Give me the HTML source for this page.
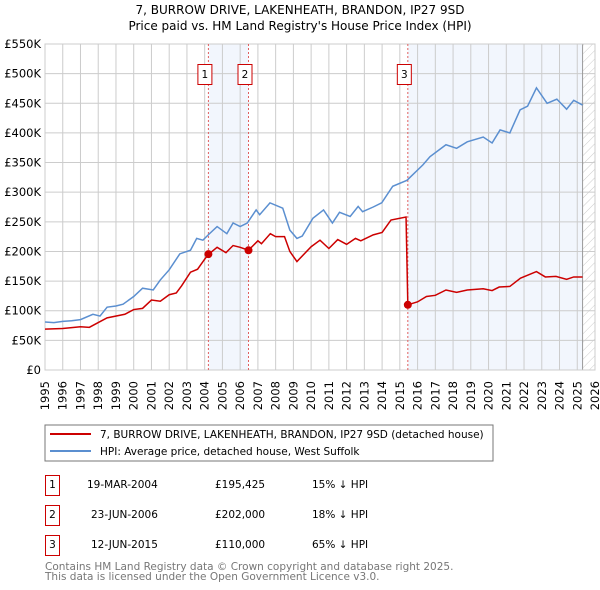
<!DOCTYPE html>
<html><head><meta charset="utf-8"><style>
body{margin:0;background:#fff;}
svg{display:block;font-family:"DejaVu Sans","Liberation Sans",sans-serif;}
</style></head><body>
<svg id="chart" width="600" height="590" viewBox="0 0 600 590" xmlns="http://www.w3.org/2000/svg">
<defs><pattern id="hatch" width="6" height="6" patternUnits="userSpaceOnUse" patternTransform="rotate(45)"><line x1="0" y1="0" x2="0" y2="6" stroke="#ccc" stroke-width="1"/></pattern></defs>
<text x="300" y="14" text-anchor="middle" font-size="12">7, BURROW DRIVE, LAKENHEATH, BRANDON, IP27 9SD</text>
<text x="300" y="30" text-anchor="middle" font-size="12">Price paid vs. HM Land Registry's House Price Index (HPI)</text>
<g id="plot"></g>
<rect x="45" y="425" width="448" height="36" fill="#fff" stroke="#777"/>
<line x1="50" y1="434" x2="91" y2="434" stroke="#cc0000" stroke-width="2"/>
<text x="100" y="438" font-size="10.5">7, BURROW DRIVE, LAKENHEATH, BRANDON, IP27 9SD (detached house)</text>
<line x1="50" y1="451" x2="91" y2="451" stroke="#5b8fd0" stroke-width="2"/>
<text x="100" y="455" font-size="10.5">HPI: Average price, detached house, West Suffolk</text>
<g font-size="10.5">
<rect x="45.5" y="475.5" width="14" height="20" fill="none" stroke="#cc0000"/><text x="52.5" y="488" text-anchor="middle">1</text>
<text x="87" y="488">19-MAR-2004</text><text x="215" y="488">£195,425</text><text x="312" y="488">15% ↓ HPI</text>
<rect x="45.5" y="505.5" width="14" height="20" fill="none" stroke="#cc0000"/><text x="52.5" y="518" text-anchor="middle">2</text>
<text x="91" y="518">23-JUN-2006</text><text x="215" y="518">£202,000</text><text x="312" y="518">18% ↓ HPI</text>
<rect x="45.5" y="535.5" width="14" height="20" fill="none" stroke="#cc0000"/><text x="52.5" y="548" text-anchor="middle">3</text>
<text x="91" y="548">12-JUN-2015</text><text x="215" y="548">£110,000</text><text x="312" y="548">65% ↓ HPI</text>
</g>
<text x="45" y="570" font-size="10.5" fill="#777">Contains HM Land Registry data © Crown copyright and database right 2025.</text>
<text x="45" y="580" font-size="10.5" fill="#777">This data is licensed under the Open Government Licence v3.0.</text>
</svg>
<script>
const yTicks=[0,50,100,150,200,250,300,350,400,450,500,550];
const yTickLabels=["£0","£50K","£100K","£150K","£200K","£250K","£300K","£350K","£400K","£450K","£500K","£550K"];
const xTicks=[1995,1996,1997,1998,1999,2000,2001,2002,2003,2004,2005,2006,2007,2008,2009,2010,2011,2012,2013,2014,2015,2016,2017,2018,2019,2020,2021,2022,2023,2024,2025,2026];
const hpiYears=[1995,1995.5,1996,1996.5,1997,1997.7,1998.1,1998.5,1999,1999.4,2000,2000.5,2001.1,2001.5,2002,2002.6,2003.2,2003.55,2003.9,2004.2,2004.7,2005.25,2005.6,2006,2006.4,2006.9,2007.1,2007.68,2008.4,2008.8,2009.2,2009.5,2010.1,2010.7,2011.2,2011.6,2012.2,2012.65,2012.9,2013.5,2013.98,2014.6,2015.4,2016.3,2016.7,2017.6,2018.2,2018.8,2019.7,2020.2,2020.65,2021.2,2021.78,2022.2,2022.7,2023.3,2023.85,2024.4,2024.8,2025.3];
const hpiValues=[81,80,82,83,85,94,91,106,108,111,124,138,135,152,169,196,202,222,219,228,242,230,248,242,248,270,262,282,273,236,222,226,256,270,248,266,259,276,267,275,282,310,320,346,360,380,374,385,393,383,405,400,439,445,476,450,457,440,455,447];
const priceYears=[1995,1996,1997,1997.5,1998,1998.5,1999.5,2000,2000.5,2001,2001.5,2002,2002.4,2002.7,2003.2,2003.6,2004,2004.21,2004.7,2005.2,2005.6,2006,2006.47,2007,2007.2,2007.7,2008,2008.5,2008.8,2009.2,2010,2010.5,2011,2011.5,2012,2012.5,2012.8,2013.5,2014,2014.5,2015.35,2015.45,2016,2016.5,2017,2017.6,2018.2,2018.8,2019.7,2020.2,2020.6,2021.2,2021.8,2022.7,2023.2,2023.8,2024.4,2024.8,2025.3];
const priceValues=[69,70,73,72,80,88,94,102,104,118,116,127,130,142,165,170,187,195,207,198,210,207,202,218,213,230,225,225,200,183,208,219,205,220,212,222,218,228,232,253,258,110,115,124,126,135,131,135,137,134,140,141,155,166,157,158,153,157,157];
const saleYears=[2004.21,2006.47,2015.45];
const saleValues=[195.425,202,110];
const saleLabels=["1","2","3"];
const NS="http://www.w3.org/2000/svg";
const L=45,R=595,T=44,B=370;
const xs=y=>L+(y-1995)*(R-L)/31;
const ys=v=>B-v*(B-T)/550;
const g=document.getElementById('plot');
function mk(tag,a){const e=document.createElementNS(NS,tag);for(const k in a)e.setAttribute(k,a[k]);g.appendChild(e);return e;}
let e;
e=mk('rect',{x:xs(saleYears[0]),y:T,width:xs(saleYears[1])-xs(saleYears[0]),height:B-T,fill:'#f2f6fd'});


e=mk('rect',{x:xs(saleYears[2]),y:T,width:xs(2025.3)-xs(saleYears[2]),height:B-T,fill:'#f2f6fd'});


e=mk('rect',{x:xs(2025.3),y:T,width:R-xs(2025.3),height:B-T,fill:'url(#hatch)'});


yTicks.forEach((v,i)=>{
 e=mk('line',{x1:L,x2:R,y1:ys(v),y2:ys(v),stroke:'#ccc','stroke-width':1});
 
 
 e=mk('text',{x:L-4,y:ys(v)+4,'text-anchor':'end','font-size':'11.5'});e.textContent=yTickLabels[i];
 
 
});
xTicks.forEach(y=>{
 e=mk('line',{x1:xs(y),x2:xs(y),y1:T,y2:B,stroke:'#ccc','stroke-width':1});
 
 
 e=mk('text',{x:0,y:0,'font-size':'11.5','text-anchor':'end',transform:`translate(${xs(y)+4},${B+11}) rotate(-90)`});e.textContent=y;
 
 
});
e=mk('line',{x1:xs(2025.3),x2:xs(2025.3),y1:T,y2:B,stroke:'#999','stroke-width':1});


e=mk('rect',{x:L,y:T,width:R-L,height:B-T,fill:'none',stroke:'#ccc'});


saleYears.forEach((y,i)=>{
 e=mk('line',{x1:xs(y),x2:xs(y),y1:T,y2:B,stroke:'#e06060','stroke-width':1,'stroke-dasharray':'2,2'});
 
 
});
e=mk('polyline',{points:hpiYears.map((y,i)=>xs(y)+','+ys(hpiValues[i])).join(' '),fill:'none',stroke:'#5b8fd0','stroke-width':1.5});


e=mk('polyline',{points:priceYears.map((y,i)=>xs(y)+','+ys(priceValues[i])).join(' '),fill:'none',stroke:'#cc0000','stroke-width':1.5});


saleYears.forEach((y,i)=>{
 e=mk('circle',{cx:xs(y),cy:ys(saleValues[i]),r:4,fill:'#cc0000'});
 
 
 e=mk('rect',{x:xs(y)-10.5,y:64.5,width:14,height:20,fill:'#fff',stroke:'#cc0000'});
 
 
 e=mk('text',{x:xs(y)-3.5,y:78,'text-anchor':'middle','font-size':'10.5'});e.textContent=saleLabels[i];
 
 
});
</script>
</body></html>
